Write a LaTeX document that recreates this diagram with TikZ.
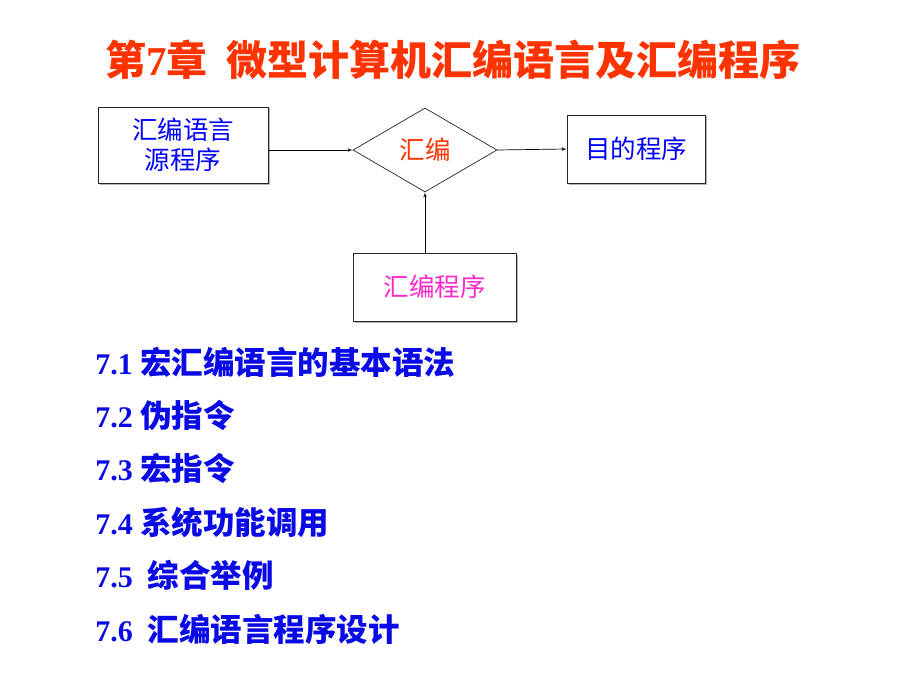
\documentclass[tikz,border=0pt]{standalone}
\usepackage{fontspec}
\setmainfont{Liberation Serif}
\newfontfamily\cjk{Noto Sans CJK SC}
\usetikzlibrary{shapes.geometric}
\usetikzlibrary{shadows}
\usetikzlibrary{positioning}
\usetikzlibrary{arrows}

\definecolor{titlered}{RGB}{255,51,0}
\definecolor{boxblue}{RGB}{0,0,255}
\definecolor{itemblue}{RGB}{10,10,230}
\definecolor{libpink}{RGB}{255,40,200}

\begin{document}
\begin{tikzpicture}[x=1pt,y=-1pt,->,>=latex',line width=0.7pt,
	node distance=53.4pt,
	box/.style={rectangle,draw=black!85,fill=white,inner sep=0pt,align=center,
		drop shadow={shadow xshift=1.5pt,shadow yshift=-1.5pt,fill=black!30,opacity=1},
		font=\cjk\fontsize{25.5}{30}\selectfont},
	decide/.style={diamond,draw=black!85,fill=white,inner sep=0pt,
		font=\cjk\fontsize{25.5}{30}\selectfont},
	item/.style={anchor=west,inner sep=0pt,text=itemblue,
		font=\bfseries\fontsize{30}{36}\selectfont}]
	
	\fill[white] (0,0) rectangle (920,690);
	\useasboundingbox (0,0) rectangle (920,690);
	
	\node[text=titlered,font=\cjk\bfseries\fontsize{41}{48}\selectfont] (title) at (453,60)
		{第{\rmfamily 7}章\ \ 微型计算机汇编语言及汇编程序};
	
	\node[box,minimum width=170pt,minimum height=76pt,text=boxblue] (src) at (183,145) {汇编语言\\源程序};
	\node[decide,minimum width=144pt,minimum height=84pt,text=titlered] (cmp) at (425,150) {汇编};
	\node[box,minimum width=138pt,minimum height=68pt,text=boxblue] (tgt) at (636,149) {目的程序};
	\node[box,minimum width=163pt,minimum height=68pt,text=libpink] (lib) at (434.5,287) {汇编程序};
	
	\draw (src.east |- cmp.west) -- (cmp.west);
	\draw (cmp.east) -- (tgt.west);
	\draw (cmp.south |- lib.north) -- (cmp.south);
	
	\node[item] (i1) at (95,362) {7.1 {\cjk\fontsize{31.5}{36}\selectfont 宏汇编语言的基本语法}};
	\node[item] (i2) [below=of i1.west,anchor=west] {7.2 {\cjk\fontsize{31.5}{36}\selectfont 伪指令}};
	\node[item] (i3) [below=of i2.west,anchor=west] {7.3 {\cjk\fontsize{31.5}{36}\selectfont 宏指令}};
	\node[item] (i4) [below=of i3.west,anchor=west] {7.4 {\cjk\fontsize{31.5}{36}\selectfont 系统功能调用}};
	\node[item] (i5) [below=of i4.west,anchor=west] {7.5\ \ {\cjk\fontsize{31.5}{36}\selectfont 综合举例}};
	\node[item] (i6) [below=of i5.west,anchor=west] {7.6\ \ {\cjk\fontsize{31.5}{36}\selectfont 汇编语言程序设计}};
\end{tikzpicture}
\end{document}
